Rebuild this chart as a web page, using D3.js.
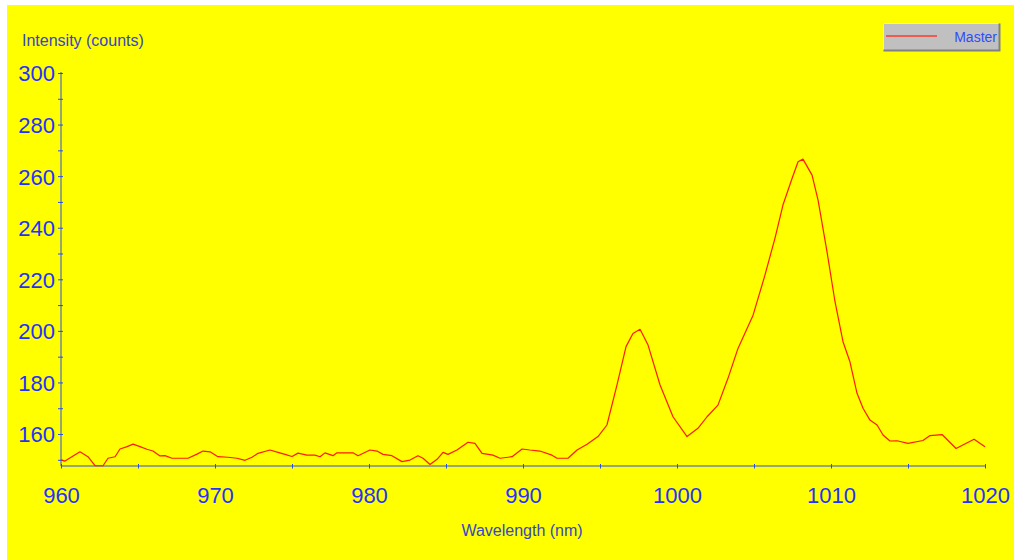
<!DOCTYPE html>
<html>
<head>
<meta charset="utf-8">
<script src="https://cdn.jsdelivr.net/npm/d3@7"></script>
<style>
  html, body { margin: 0; padding: 0; background: #fff; }
  svg { display: block; }
</style>
</head>
<body>
<div id="container"></div>
<script>
// spectrum: wavelength (nm) / intensity (counts)
const wavelength = [960, 960.26, 961.23, 961.75, 962.21, 962.73, 963.05, 963.51, 963.83, 964.29,
  964.68, 965.13, 965.58, 965.97, 966.43, 966.75, 967.21, 968.25, 968.83, 969.22,
  969.68, 970.19, 970.84, 971.43, 971.95, 972.40, 972.79, 973.57, 974.09, 974.55,
  975.0, 975.39, 975.97, 976.49, 976.82, 977.14, 977.66, 977.92, 978.96, 979.29,
  980.06, 980.52, 980.91, 981.49, 982.14, 982.66, 983.18, 983.51, 983.96, 984.42,
  984.81, 985.13, 985.71, 986.43, 986.88, 987.34, 988.05, 988.51, 989.29, 989.94,
  990.45, 991.10, 991.88, 992.21, 992.92, 993.51, 994.16, 994.87, 995.45, 996.10,
  996.69, 997.14, 997.6, 998.12, 998.9, 999.74, 1000.65, 1001.36, 1001.95, 1002.66,
  1003.31, 1003.96, 1004.94, 1005.71, 1006.36, 1006.88, 1007.47, 1007.86, 1008.18, 1008.77,
  1009.16, 1009.74, 1010.26, 1010.78, 1011.23, 1011.69, 1012.08, 1012.53, 1012.99, 1013.38,
  1013.83, 1014.29, 1015.0, 1015.97, 1016.43, 1017.21, 1018.12, 1019.29, 1020];
const intensity = [150, 149.5, 153.1, 151.2, 147.7, 147.7, 150.6, 151.2, 154.2, 155.1,
  156.1, 155.1, 154.1, 153.4, 151.5, 151.6, 150.6, 150.6, 152.2, 153.4,
  153.1, 151.2, 151.0, 150.6, 149.8, 151.0, 152.5, 153.8, 152.9, 152.1,
  151.3, 152.6, 151.8, 151.8, 151.2, 152.7, 151.6, 152.7, 152.7, 151.6,
  153.8, 153.4, 152.1, 151.6, 149.3, 149.9, 151.6, 150.6, 148.2, 150.2,
  152.9, 152.1, 153.8, 156.8, 156.4, 152.5, 151.8, 150.6, 151.2, 154.2,
  153.8, 153.4, 151.8, 150.6, 150.6, 153.8, 156.0, 159.0, 163.5, 179,
  193.9, 199, 200.6, 194.5, 179, 166.7, 159, 162.2, 166.7, 171.2,
  181.6, 193.2, 206.1, 221.6, 235.9, 248.8, 259.1, 265.6, 266.6, 260.4,
  250.7, 230.7, 211.3, 195.8, 188, 175.8, 170, 165.4, 163.5, 159.6,
  157.3, 157.4, 156.4, 157.5, 159.4, 159.8, 154.4, 158, 155.1];

const xTicks = [960, 965, 970, 975, 980, 985, 990, 995, 1000, 1005, 1010, 1015, 1020];
const xLabels = [960, 970, 980, 990, 1000, 1010, 1020];
const yTicks = [150, 160, 170, 180, 190, 200, 210, 220, 230, 240, 250, 260, 270, 280, 290, 300];
const yLabels = [160, 180, 200, 220, 240, 260, 280, 300];
const seriesName = "Master";

const width = 1014, height = 560;
const data = wavelength.map((w, i) => ({w: w, v: intensity[i]}));

const svg = d3.select("#container")
  .append("svg")
    .attr("width", width)
    .attr("height", height)
    .style("font-family", "'Liberation Sans', Arial, sans-serif");

svg.append("rect")
    .attr("x", 7).attr("y", 5)
    .attr("width", width - 7).attr("height", height - 5)
    .attr("fill", "#ffff00");

const x = d3.scaleLinear().domain([960, 1020]).range([61, 985]);
const y = d3.scaleLinear().domain([147.6, 300]).range([466, 73]);

const axisColor = "#2b4fe6", labelColor = "#1f32ff";

// y axis
const gy = svg.append("g")
    .attr("transform", "translate(61,0)")
    .call(d3.axisLeft(y).tickValues(yTicks).tickSize(3)
      .tickFormat(d => yLabels.includes(d) ? d : ""));
gy.select(".domain").remove();
gy.append("line").attr("y1", 72).attr("y2", 466).attr("stroke", axisColor);
gy.selectAll(".tick line").attr("stroke", axisColor).attr("x1", 2).attr("x2", -3);
gy.selectAll(".tick text")
    .attr("x", -6).attr("dy", "0.36em")
    .attr("fill", labelColor)
    .style("font-size", "22px");

// x axis
const gx = svg.append("g")
    .attr("transform", "translate(0,466)")
    .call(d3.axisBottom(x).tickValues(xTicks).tickSize(2)
      .tickFormat(d => xLabels.includes(d) ? d : ""));
gx.select(".domain").remove();
gx.append("line").attr("x1", 61).attr("x2", 985).attr("stroke", axisColor);
gx.selectAll(".tick line").attr("stroke", axisColor).attr("y1", -2).attr("y2", 2.5);
gx.selectAll(".tick text")
    .attr("y", 37).attr("dy", null)
    .attr("fill", labelColor)
    .style("font-size", "22px");

// axis titles
svg.append("text")
    .attr("x", 22).attr("y", 46)
    .attr("fill", "#3646c4")
    .style("font-size", "16px")
    .text("Intensity (counts)");
svg.append("text")
    .attr("x", 522).attr("y", 536)
    .attr("text-anchor", "middle")
    .attr("fill", "#3646c4")
    .style("font-size", "16px")
    .text("Wavelength (nm)");

// spectrum
svg.append("path")
    .datum(data)
    .attr("fill", "none")
    .attr("stroke", "#ff1a00")
    .attr("stroke-width", 1.2)
    .attr("stroke-linejoin", "round")
    .attr("d", d3.line().x(d => x(d.w)).y(d => y(d.v)));

// legend
const lg = svg.append("g").attr("transform", "translate(883,23)");
lg.append("rect").attr("width", 117).attr("height", 28).attr("fill", "#c0c0c0");
lg.append("path").attr("d", "M0.5,27.5V0.5H116.5").attr("fill", "none").attr("stroke", "#eeeeee");
lg.append("path").attr("d", "M0.5,27.5H116.5V0.5").attr("fill", "none").attr("stroke", "#808080").attr("stroke-width", 2);
lg.append("line").attr("x1", 3).attr("x2", 54).attr("y1", 13).attr("y2", 13)
    .attr("stroke", "#ff3a2a").attr("stroke-width", 1.5);
lg.append("text").attr("x", 114).attr("y", 19)
    .attr("text-anchor", "end")
    .attr("fill", "#2f4cff")
    .style("font-size", "14px")
    .text(seriesName);
</script>
</body>
</html>
